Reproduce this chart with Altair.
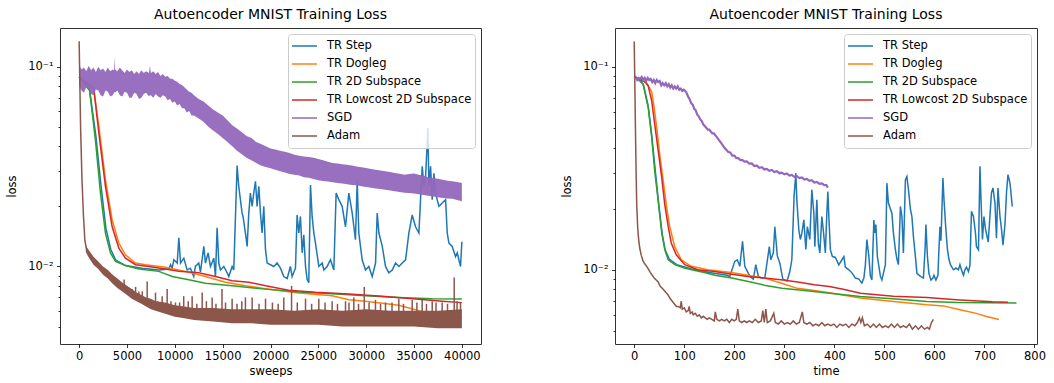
import altair as alt
import pandas as pd

FONT = "DejaVu Sans"
TITLE = "Autoencoder MNIST Training Loss"
SERIES = ["TR Step", "TR Dogleg", "TR 2D Subspace", "TR Lowcost 2D Subspace", "SGD", "Adam"]
COLORS = ["#1f77b4", "#ff7f0e", "#2ca02c", "#d62728", "#9467bd", "#8c564b"]

L_XTICKS = [0, 5000, 10000, 15000, 20000, 25000, 30000, 35000, 40000]
R_XTICKS = [0, 100, 200, 300, 400, 500, 600, 700, 800]
Y_TICKS = [0.005, 0.006, 0.007, 0.008, 0.009, 0.01, 0.02, 0.03, 0.04, 0.05, 0.06, 0.07, 0.08, 0.09, 0.1]
L_XDOMAIN = [-2000, 42000]
R_XDOMAIN = [-38.4, 805]
L_YDOMAIN = [0.00409, 0.1563]
R_YDOMAIN = [0.00431, 0.1551]

# ---------------- left panel (sweeps, loss) ----------------
L_TR_STEP = [
    (0, 0.089), (1100, 0.076), (1750, 0.045), (2300, 0.025), (2800, 0.0155), (3300, 0.0122), (3800, 0.0108),
    (4840, 0.0101), (6580, 0.0098), (8330, 0.0096), (9370, 0.0097), (9550, 0.0102), (9720, 0.0098), (9900, 0.0108),
    (10250, 0.0104), (10420, 0.0139), (10600, 0.0104), (10940, 0.0110), (11290, 0.0096), (11630, 0.0098),
    (11980, 0.0089), (12150, 0.0100), (12500, 0.0104), (12680, 0.0094), (13030, 0.0126), (13200, 0.0104),
    (13480, 0.0117), (13720, 0.0100), (14070, 0.0110), (14250, 0.0089), (14420, 0.0156), (14600, 0.0104),
    (14770, 0.0096), (15120, 0.0100), (15470, 0.0093), (15640, 0.0089), (15990, 0.0100), (16160, 0.0096),
    (16510, 0.0320), (16680, 0.0252), (17030, 0.0185), (17130, 0.0178), (17380, 0.0147), (17560, 0.0126),
    (17730, 0.0185), (17900, 0.0233), (18080, 0.0200), (18250, 0.0233), (18430, 0.0267), (18600, 0.0200),
    (18780, 0.0252), (18950, 0.0185), (19120, 0.0147), (19300, 0.0200), (19470, 0.0122), (19650, 0.0104),
    (20000, 0.0102), (20340, 0.0100), (20690, 0.0104), (21040, 0.0098), (21390, 0.0089), (21740, 0.0087),
    (22080, 0.0100), (22260, 0.0089), (22610, 0.0098), (22780, 0.0181), (22960, 0.0147), (23130, 0.0178),
    (23310, 0.0117), (23480, 0.0144), (23660, 0.0100), (23830, 0.0086), (24000, 0.0083), (24180, 0.0256),
    (24350, 0.0178), (24530, 0.0147), (24700, 0.0131), (25050, 0.0100), (25400, 0.0104), (25570, 0.0096),
    (25920, 0.0100), (26270, 0.0108), (26620, 0.0096), (26860, 0.0233), (27140, 0.0216), (27490, 0.0200),
    (27840, 0.0158), (28190, 0.0233), (28540, 0.0185), (28880, 0.0136), (29060, 0.0267), (29230, 0.0147),
    (29580, 0.0108), (29930, 0.0096), (30280, 0.0100), (30630, 0.0089), (30980, 0.0104), (31150, 0.0185),
    (31330, 0.0147), (31680, 0.0126), (32020, 0.0100), (32370, 0.0093), (32720, 0.0096), (33070, 0.0104),
    (33420, 0.0100), (33770, 0.0104), (34120, 0.0108), (34460, 0.0147), (34810, 0.0181), (35160, 0.0158),
    (35510, 0.0147), (35680, 0.0216), (35860, 0.0317), (36030, 0.0252), (36210, 0.0282), (36450, 0.0493),
    (36550, 0.0252), (36730, 0.0317), (36900, 0.0216), (37080, 0.0293), (37250, 0.0233), (37600, 0.0200),
    (37950, 0.0208), (38300, 0.0216), (38470, 0.0147), (38650, 0.0131), (38990, 0.0126), (39340, 0.0112),
    (39520, 0.0117), (39690, 0.0108), (39860, 0.0100), (40000, 0.0133),
]
L_TR_DOGLEG = [
    (0, 0.089), (1530, 0.077), (2060, 0.0503), (2750, 0.0272), (3450, 0.0171), (4150, 0.0131), (4840, 0.01143),
    (5890, 0.0104), (6930, 0.0102), (9020, 0.0099), (11110, 0.00945), (13200, 0.0089), (15290, 0.00834),
    (17380, 0.0080), (19480, 0.00774), (22960, 0.00736), (26440, 0.00713), (28180, 0.00681), (29930, 0.0067),
    (31670, 0.00654), (33410, 0.0064), (35150, 0.00607), (36900, 0.00573), (38640, 0.0056), (40000, 0.00557),
]
L_TR_2D = [
    (0, 0.089), (1080, 0.077), (1700, 0.043), (2230, 0.0233), (2750, 0.0147), (3275, 0.01167), (3800, 0.01059),
    (4840, 0.0101), (6240, 0.0097), (8330, 0.00945), (9720, 0.0089), (11460, 0.00857), (13200, 0.00825),
    (16000, 0.0080), (19480, 0.0077), (22960, 0.00745), (26440, 0.0073), (29930, 0.00713), (33410, 0.0070),
    (36900, 0.00689), (40000, 0.00687),
]
L_TR_LOWCOST = [
    (0, 0.089), (1530, 0.078), (2060, 0.0466), (2750, 0.0252), (3450, 0.0158), (4150, 0.01236), (4840, 0.0110),
    (5890, 0.0102), (7280, 0.0100), (9020, 0.0097), (10420, 0.00945), (12500, 0.0093), (14250, 0.0089),
    (15990, 0.00848), (17730, 0.00834), (19480, 0.0080), (21910, 0.00761), (24700, 0.00742), (28180, 0.00728),
    (31670, 0.0071), (35150, 0.00687), (37940, 0.0067), (40000, 0.00659),
]
# SGD: noisy band -> (sweeps, lower edge, upper edge)
L_SGD_BAND = [
    (0, 0.080, 0.102), (250, 0.076, 0.097), (500, 0.074, 0.099), (750, 0.079, 0.095), (1000, 0.078, 0.101),
    (1250, 0.073, 0.096), (1500, 0.072, 0.099), (1750, 0.077, 0.094), (2000, 0.076, 0.100), (2250, 0.072, 0.096),
    (2500, 0.071, 0.098), (2750, 0.076, 0.094), (3000, 0.075, 0.099), (3250, 0.071, 0.095), (3500, 0.072, 0.097),
    (3650, 0.074, 0.096), (3700, 0.075, 0.112), (3750, 0.074, 0.097), (4000, 0.076, 0.095), (4250, 0.072, 0.099),
    (4500, 0.071, 0.096), (4750, 0.075, 0.093), (5000, 0.074, 0.097), (5250, 0.070, 0.094), (5500, 0.070, 0.096),
    (5750, 0.074, 0.092), (6000, 0.073, 0.095), (6250, 0.069, 0.092), (6500, 0.070, 0.096), (6750, 0.073, 0.093),
    (7000, 0.074, 0.095), (7300, 0.071, 0.093), (7400, 0.072, 0.101), (7500, 0.072, 0.093), (7750, 0.070, 0.095),
    (8000, 0.073, 0.092), (8250, 0.071, 0.094), (8500, 0.070, 0.090), (8750, 0.072, 0.092), (9000, 0.071, 0.089),
    (9250, 0.068, 0.090), (9500, 0.069, 0.087), (9750, 0.066, 0.087), (10000, 0.067, 0.085), (10250, 0.064, 0.084),
    (10500, 0.065, 0.082), (10750, 0.062, 0.081), (11000, 0.062, 0.079), (11250, 0.059, 0.077), (11500, 0.060, 0.075),
    (11750, 0.057, 0.074), (12000, 0.057, 0.072), (12500, 0.055, 0.069), (13000, 0.053, 0.067), (13500, 0.050, 0.064),
    (14000, 0.048, 0.061), (14500, 0.046, 0.059), (15000, 0.044, 0.057), (15500, 0.042, 0.054), (16000, 0.040, 0.051),
    (16500, 0.038, 0.049), (17000, 0.0365, 0.047), (17500, 0.035, 0.045), (18000, 0.034, 0.044), (18500, 0.033, 0.042),
    (19000, 0.032, 0.041), (19500, 0.0315, 0.040), (20000, 0.031, 0.039), (20500, 0.0305, 0.0385), (21000, 0.030, 0.038),
    (21500, 0.0295, 0.0375), (22000, 0.029, 0.037), (22500, 0.0288, 0.0362), (23000, 0.0285, 0.0358), (23500, 0.028, 0.0355),
    (24000, 0.0278, 0.0353), (24500, 0.0274, 0.035), (25000, 0.027, 0.0345), (25500, 0.0268, 0.034), (26000, 0.0266, 0.0334),
    (26500, 0.0264, 0.033), (27000, 0.0262, 0.0328), (27500, 0.026, 0.0325), (28000, 0.0258, 0.0323), (28500, 0.0256, 0.032),
    (29000, 0.0255, 0.0317), (29500, 0.0252, 0.0314), (30000, 0.025, 0.0311), (30500, 0.0248, 0.0308), (31000, 0.0246, 0.0305),
    (31500, 0.0244, 0.0302), (32000, 0.0242, 0.030), (32500, 0.024, 0.0297), (33000, 0.0238, 0.0294), (33500, 0.0236, 0.0291),
    (34000, 0.0234, 0.0288), (34500, 0.0233, 0.029), (35000, 0.0232, 0.0292), (35500, 0.023, 0.0288), (36000, 0.0228, 0.0285),
    (36500, 0.0226, 0.028), (37000, 0.0224, 0.0277), (37500, 0.0222, 0.0275), (38000, 0.022, 0.0272), (38500, 0.0219, 0.0269),
    (39000, 0.0218, 0.0267), (39500, 0.0215, 0.0265), (40000, 0.0212, 0.0262),
]
L_ADAM_LINE = [(0, 0.134), (150, 0.05), (300, 0.027), (450, 0.018), (600, 0.0135), (770, 0.0122), (1000, 0.0116), (1460, 0.0107)]
L_ADAM_BAND = [
    (700, 0.0118, 0.0127), (1000, 0.0111, 0.0121), (1500, 0.0102, 0.0112), (2000, 0.0097, 0.0106), (2500, 0.0091, 0.0100),
    (3000, 0.0087, 0.0096), (3500, 0.0082, 0.0091), (4000, 0.0078, 0.0087), (4500, 0.0075, 0.0083), (5000, 0.0072, 0.0080),
    (5500, 0.0069, 0.0077), (6000, 0.0067, 0.0074), (6500, 0.0065, 0.0072), (7000, 0.0063, 0.0070), (7500, 0.0061, 0.0069),
    (8000, 0.0060, 0.0067), (9000, 0.0058, 0.0066), (10000, 0.0056, 0.0064), (11000, 0.0055, 0.0063), (12000, 0.0054, 0.0062),
    (14000, 0.0053, 0.0062), (16000, 0.0052, 0.0061), (18000, 0.0052, 0.0061), (20000, 0.0051, 0.0061), (22500, 0.0051, 0.0060),
    (25000, 0.0051, 0.0061), (27500, 0.0050, 0.0060), (30000, 0.0050, 0.0061), (32500, 0.0050, 0.0060), (35000, 0.0050, 0.0060),
    (37500, 0.0049, 0.0060), (40000, 0.0049, 0.0061),
]
# Adam spikes: (sweeps, base, peak)
L_ADAM_SPIKES = [
    (4700, 0.0077, 0.0086), (5540, 0.0073, 0.0077), (5900, 0.0070, 0.0079), (6240, 0.0068, 0.0075), (6600, 0.0067, 0.0075),
    (7110, 0.0065, 0.0084), (7980, 0.0062, 0.0074), (8200, 0.0061, 0.0067), (8680, 0.0060, 0.0071), (9200, 0.0059, 0.0077),
    (9600, 0.0059, 0.0067), (10070, 0.0058, 0.0066), (10500, 0.0058, 0.0066), (10930, 0.0058, 0.0071), (11400, 0.0058, 0.0067),
    (11810, 0.0058, 0.0071), (12300, 0.0058, 0.0065), (12860, 0.0058, 0.0074), (13300, 0.0058, 0.0067), (13900, 0.0058, 0.0070),
    (14300, 0.0058, 0.0065), (14930, 0.0058, 0.0077), (15300, 0.0058, 0.0066), (15990, 0.0058, 0.0069), (16500, 0.0058, 0.0065),
    (17000, 0.0058, 0.0067), (17380, 0.0058, 0.0070), (18080, 0.0058, 0.0070), (18800, 0.0058, 0.0065), (19480, 0.0058, 0.0069),
    (20200, 0.0058, 0.0066), (20800, 0.0058, 0.0065), (21390, 0.0058, 0.0070), (22200, 0.0058, 0.0080), (22800, 0.0058, 0.0066),
    (23660, 0.0058, 0.0069), (24300, 0.0058, 0.0065), (25050, 0.0058, 0.0069), (25700, 0.0058, 0.0066), (26440, 0.0058, 0.0067),
    (27000, 0.0058, 0.0065), (27840, 0.0058, 0.0067), (28200, 0.0058, 0.0066), (28710, 0.0058, 0.0070), (29200, 0.0058, 0.0065),
    (29800, 0.0058, 0.0079), (30300, 0.0058, 0.0066), (30970, 0.0058, 0.0068), (31500, 0.0058, 0.0065), (32020, 0.0058, 0.0066),
    (32700, 0.0058, 0.0066), (33410, 0.0058, 0.0069), (33900, 0.0058, 0.0065), (34810, 0.0058, 0.0068), (35300, 0.0058, 0.0066),
    (35850, 0.0058, 0.0068), (36300, 0.0058, 0.0065), (36900, 0.0058, 0.0067), (37300, 0.0058, 0.0066), (37940, 0.0058, 0.0066),
    (38500, 0.0058, 0.0065), (39200, 0.0058, 0.0088), (39500, 0.0058, 0.0067), (39860, 0.0058, 0.0066),
]

# ---------------- right panel (time, loss) ----------------
R_TR_STEP = [
    (5, 0.088), (18, 0.082), (28, 0.064), (35, 0.046), (42, 0.031), (49, 0.021), (56, 0.015), (62, 0.0125), (70, 0.0113),
    (85, 0.0106), (115, 0.0101), (150, 0.0097), (185, 0.0094), (191, 0.00927), (201, 0.0110), (206, 0.0112), (211, 0.0104),
    (216.5, 0.0138), (221, 0.0104), (231, 0.0093), (238, 0.0090), (243, 0.0106), (248, 0.0093), (254, 0.0091), (261, 0.0091),
    (270, 0.0130), (273, 0.0112), (278, 0.0121), (281, 0.0163), (286, 0.0117), (291, 0.0108), (297, 0.0090), (305.5, 0.0088),
    (311, 0.0098), (315, 0.0112), (319.5, 0.0230), (323, 0.0299), (325, 0.0221), (329, 0.0157), (332, 0.0141), (335, 0.0151),
    (339, 0.0176), (343, 0.0126), (346, 0.0163), (351, 0.0141), (355, 0.0248), (359, 0.0190), (361, 0.0130), (365, 0.0221),
    (368, 0.0135), (371, 0.0121), (375, 0.0183), (378.5, 0.0151), (382, 0.0121), (385, 0.0190), (387, 0.0243),
    (389, 0.0183), (392, 0.01255), (396, 0.01163), (402, 0.0115), (409, 0.01058), (416, 0.0113), (419, 0.0116), (422, 0.0103),
    (429, 0.0100), (435.5, 0.00963), (442, 0.0091), (449, 0.0090), (455, 0.0086), (459, 0.0091), (462, 0.0106), (465, 0.0141),
    (469, 0.0116), (472, 0.0093), (475, 0.0089), (479, 0.0176), (480.5, 0.0152), (483, 0.0167), (486, 0.0116), (492, 0.0093),
    (495, 0.0089), (498, 0.0096), (502, 0.0106), (505, 0.0267), (508, 0.0213), (515, 0.0190), (518, 0.0152), (522, 0.01255),
    (525, 0.0113), (528, 0.0106), (532, 0.0205), (535, 0.0183), (538, 0.0121), (542, 0.0277), (545, 0.0288), (548, 0.0249),
    (552, 0.0199), (555, 0.0183), (558, 0.0146), (562, 0.0116), (565, 0.0096), (571.5, 0.0093), (578, 0.0091), (581.5, 0.0130),
    (583, 0.0167), (586, 0.0116), (589, 0.0096), (593, 0.0089), (597, 0.0091), (599, 0.0094), (603, 0.0089), (607, 0.0094),
    (609, 0.01255), (611, 0.0163), (613, 0.0139), (615, 0.0199), (617, 0.0283), (619, 0.0224), (622.5, 0.0163), (626, 0.01255),
    (629, 0.0113), (632, 0.0106), (638, 0.0100), (643, 0.0102), (648, 0.0100), (651, 0.0106), (654, 0.0100), (658, 0.0094),
    (661, 0.0100), (664, 0.0103), (668, 0.0098), (671, 0.0105), (674, 0.0194), (678, 0.0183), (682, 0.0152), (684, 0.0130),
    (688, 0.01255), (691, 0.0323), (693, 0.0224), (696, 0.0141), (699, 0.0183), (702, 0.0159), (707.5, 0.0137), (714, 0.0239),
    (717, 0.0253), (721, 0.0213), (724, 0.0143), (727, 0.0253), (731, 0.0183), (734, 0.0159), (737, 0.0132), (741, 0.0167),
    (744, 0.0239), (747, 0.0294), (751, 0.0267), (753, 0.0239), (755.5, 0.0205),
]
R_TR_DOGLEG = [
    (5, 0.088), (15, 0.086), (25, 0.083), (35, 0.075), (40, 0.0628), (45, 0.050), (51, 0.037), (58, 0.0274), (64.5, 0.0206),
    (71, 0.0163), (81, 0.013), (94, 0.0112), (114, 0.0104), (147, 0.0100), (194, 0.0097), (227, 0.0094), (260, 0.0091),
    (293, 0.0086), (326, 0.0081), (360, 0.0079), (390, 0.0077), (452, 0.00726), (518, 0.00698), (585, 0.00673),
    (618, 0.00664), (651, 0.00636), (684, 0.0061), (704, 0.00589), (729, 0.00569),
]
R_TR_2D = [
    (5, 0.088), (12, 0.086), (18, 0.0818), (28, 0.0628), (35, 0.0447), (41, 0.0306), (48, 0.0218), (55, 0.0152), (61, 0.01256),
    (68, 0.0112), (81, 0.0106), (100, 0.0102), (115, 0.0100), (140, 0.0097), (161, 0.0094), (195, 0.0091), (228, 0.00875),
    (260, 0.0084), (295, 0.0081), (340, 0.0079), (391, 0.00767), (452, 0.00738), (516, 0.0072), (585, 0.00698),
    (646, 0.0069), (706, 0.00688), (764, 0.00686),
]
R_TR_LOWCOST = [
    (5, 0.088), (15, 0.086), (22, 0.084), (28, 0.0804), (35, 0.0678), (41, 0.052), (48, 0.0385), (55, 0.0284), (61, 0.021),
    (68, 0.0163), (74, 0.01355), (84, 0.01186), (101, 0.0106), (127, 0.0100), (161, 0.0098), (195, 0.0095), (227, 0.00927),
    (260, 0.0091), (293, 0.00893), (327, 0.0087), (360, 0.00844), (390, 0.00828), (420, 0.0080), (452, 0.00767),
    (518, 0.0074), (585, 0.0073), (651, 0.0071), (716, 0.00695), (747, 0.00691),
]
R_SGD = [
    (0, 0.088), (3, 0.089), (6, 0.086), (9, 0.088), (12, 0.087), (15, 0.089), (18, 0.086), (21, 0.088), (24, 0.085),
    (27, 0.088), (30, 0.086), (33, 0.087), (36, 0.084), (39, 0.086), (42, 0.083), (45, 0.086), (48, 0.084), (51, 0.085),
    (54, 0.081), (57, 0.083), (60, 0.081), (63, 0.083), (66, 0.080), (69, 0.082), (72, 0.079), (75, 0.081), (78, 0.078),
    (81, 0.080), (84, 0.078), (87, 0.080), (90, 0.077), (93, 0.078), (96, 0.076), (99, 0.077), (102, 0.076), (105, 0.074),
    (108, 0.071), (111, 0.069), (114, 0.066), (117, 0.065), (120, 0.062), (123, 0.061), (126, 0.058), (129, 0.057),
    (132, 0.055), (135, 0.054), (138, 0.052), (141, 0.051), (144, 0.050), (147, 0.049), (150, 0.049), (153, 0.048),
    (156, 0.047), (159, 0.047), (162, 0.046), (165, 0.045), (168, 0.044), (171, 0.043), (174, 0.042), (177, 0.041),
    (180, 0.040), (184, 0.039), (188, 0.038), (192, 0.0378), (196, 0.0365), (200, 0.0365), (204, 0.0355), (208, 0.0355),
    (212, 0.0347), (216, 0.0348), (220, 0.0341), (225, 0.0342), (230, 0.0333), (235, 0.0334), (240, 0.0324), (245, 0.0326),
    (250, 0.0318), (255, 0.0320), (260, 0.0312), (265, 0.0314), (270, 0.0307), (275, 0.0310), (280, 0.0303), (285, 0.0306),
    (290, 0.0299), (295, 0.0301), (300, 0.0295), (305, 0.0298), (310, 0.0291), (315, 0.0293), (320, 0.0287), (325, 0.0289),
    (330, 0.0283), (335, 0.0285), (340, 0.0278), (345, 0.0280), (350, 0.0274), (355, 0.0276), (360, 0.0269), (365, 0.0271),
    (370, 0.0265), (375, 0.0266), (380, 0.0261), (384, 0.0261), (387, 0.0254),
]
R_ADAM = [
    (0, 0.133), (1, 0.09), (2, 0.06), (3, 0.04), (4, 0.028), (5, 0.021), (7, 0.016), (9, 0.014), (11, 0.0128), (14, 0.0118),
    (18, 0.0110), (21, 0.0107), (25, 0.0104), (28, 0.0101), (32, 0.0097), (36, 0.0094), (40, 0.0091), (44, 0.0089),
    (48, 0.0087), (52, 0.0083), (56, 0.0081), (60, 0.0079), (64, 0.0077), (68, 0.0075), (72, 0.0072), (76, 0.0070),
    (80, 0.0068), (84, 0.0066), (88, 0.0066), (92, 0.0065), (94, 0.0070), (96, 0.0064), (100, 0.0065), (104, 0.0062),
    (108, 0.0063), (110, 0.0066), (112, 0.0061), (116, 0.0062), (118, 0.0060), (122, 0.0061), (126, 0.0059), (130, 0.0060),
    (134, 0.0058), (138, 0.0059), (142, 0.0058), (146, 0.0057), (150, 0.0058), (155, 0.0057), (160, 0.0056), (162, 0.0062),
    (165, 0.0057), (170, 0.0056), (175, 0.0057), (180, 0.0056), (185, 0.0057), (190, 0.0055), (195, 0.0057), (200, 0.0056),
    (204, 0.0057), (207, 0.0064), (210, 0.0056), (215, 0.0055), (220, 0.0056), (225, 0.0055), (230, 0.0056), (236, 0.0055),
    (242, 0.0057), (248, 0.0055), (254, 0.0056), (257, 0.0063), (260, 0.0055), (263, 0.0064), (266, 0.0055), (272, 0.0056),
    (279, 0.0061), (282, 0.0055), (288, 0.0054), (294, 0.0056), (300, 0.0054), (306, 0.0055), (312, 0.0054), (318, 0.0056),
    (324, 0.0054), (330, 0.0055), (336, 0.0062), (339, 0.0055), (345, 0.0054), (351, 0.0055), (357, 0.0053), (363, 0.0054),
    (369, 0.0053), (375, 0.0055), (381, 0.0053), (387, 0.0054), (393, 0.0053), (399, 0.0054), (405, 0.0052), (411, 0.0054),
    (417, 0.0053), (423, 0.0054), (429, 0.0052), (435, 0.0054), (441, 0.0053), (446, 0.0055), (450, 0.0058), (453, 0.0055),
    (456, 0.0058), (460, 0.0053), (466, 0.0054), (472, 0.0052), (478, 0.0054), (484, 0.0052), (490, 0.0054), (496, 0.0052),
    (502, 0.0053), (508, 0.0052), (514, 0.0054), (520, 0.0052), (526, 0.0054), (532, 0.0052), (538, 0.0053), (544, 0.0052),
    (550, 0.0054), (556, 0.0051), (562, 0.0053), (568, 0.0051), (574, 0.0053), (580, 0.0051), (586, 0.0052), (590, 0.0051),
    (594, 0.0055), (598, 0.0057),
]

W, H = 421, 316
LABEL_SIZE = 11.5


def pairs_df(pairs, name):
    return pd.DataFrame({"x": [p[0] for p in pairs], "loss": [p[1] for p in pairs], "series": name})


def band_df(triples):
    return pd.DataFrame({"x": [t[0] for t in triples], "loss": [t[1] for t in triples], "loss2": [t[2] for t in triples]})


def encodings(xtitle, xdom, xticks, ydom):
    x = alt.X("x:Q", scale=alt.Scale(domain=xdom, nice=False, zero=False),
              axis=alt.Axis(values=xticks, format="d", title=xtitle, tickSize=3.5, labelPadding=3,
                            titlePadding=3, labelFlush=False))
    y = alt.Y("loss:Q", scale=alt.Scale(type="log", domain=ydom, nice=False),
              axis=alt.Axis(values=Y_TICKS,
                            labelExpr="datum.value == 0.1 ? '10⁻¹' : (datum.value == 0.01 ? '10⁻²' : '')",
                            tickSize={"condition": {"test": "datum.value == 0.1 || datum.value == 0.01", "value": 3.5}, "value": 2},
                            labelPadding=3.5, title="loss", titlePadding=10, labelOverlap=False))
    return x, y


LEGEND = alt.Legend(title=None, orient="top-right", offset=6, symbolType="stroke", symbolSize=625,
                    symbolStrokeWidth=1.5, labelFont=FONT, labelFontSize=LABEL_SIZE, labelColor="#000", labelOffset=9,
                    padding=3, rowPadding=0, clipHeight=18, strokeColor="#cccccc", fillColor="rgba(255,255,255,0.8)",
                    cornerRadius=3, labelLimit=400)
COLOR = alt.Color("series:N", scale=alt.Scale(domain=SERIES, range=COLORS), legend=LEGEND)


def line_layer(pairs, name, x, y, width=1.5):
    return alt.Chart(pairs_df(pairs, name)).mark_line(strokeWidth=width, clip=True).encode(x=x, y=y, color=COLOR)


# left panel
lx, ly = encodings("sweeps", L_XDOMAIN, L_XTICKS, L_YDOMAIN)
left_layers = [
    line_layer(L_TR_STEP, "TR Step", lx, ly),
    line_layer(L_TR_DOGLEG, "TR Dogleg", lx, ly),
    line_layer(L_TR_2D, "TR 2D Subspace", lx, ly),
    line_layer(L_TR_LOWCOST, "TR Lowcost 2D Subspace", lx, ly),
    alt.Chart(band_df(L_SGD_BAND)).mark_area(color=COLORS[4], opacity=0.95, clip=True).encode(x=lx, y=ly, y2="loss2:Q"),
    line_layer(L_ADAM_LINE, "Adam", lx, ly),
    alt.Chart(band_df(L_ADAM_BAND)).mark_area(color=COLORS[5], clip=True).encode(x=lx, y=ly, y2="loss2:Q"),
    alt.Chart(band_df(L_ADAM_SPIKES)).mark_rule(color=COLORS[5], strokeWidth=1.5, clip=True).encode(x=lx, y=ly, y2="loss2:Q"),
]
title_params = alt.TitleParams(TITLE, font=FONT, fontSize=14, fontWeight="normal", color="#000", offset=6, anchor="middle")
left = alt.layer(*left_layers).properties(width=W, height=H, title=title_params)

# right panel
rx, ry = encodings("time", R_XDOMAIN, R_XTICKS, R_YDOMAIN)
right_layers = [
    line_layer(R_TR_STEP, "TR Step", rx, ry),
    line_layer(R_TR_DOGLEG, "TR Dogleg", rx, ry),
    line_layer(R_TR_2D, "TR 2D Subspace", rx, ry),
    line_layer(R_TR_LOWCOST, "TR Lowcost 2D Subspace", rx, ry),
    line_layer(R_SGD, "SGD", rx, ry, width=2.2),
    line_layer(R_ADAM, "Adam", rx, ry),
]
right = alt.layer(*right_layers).properties(width=W + 1, height=H, title=title_params)

chart = alt.hconcat(left, right, spacing=79).resolve_scale(color="independent").properties(
    padding={"left": 6, "top": 7, "right": 0, "bottom": 0}, background="white"
).configure_view(stroke="#333333", strokeWidth=1).configure_axis(
    domain=False, grid=False, labelFont=FONT, titleFont=FONT, labelFontSize=LABEL_SIZE, titleFontSize=LABEL_SIZE,
    titleFontWeight="normal", labelColor="#000", titleColor="#000", tickColor="#000", tickWidth=0.8
)

chart.save("out.html", embed_options={"renderer": "svg", "actions": False})
